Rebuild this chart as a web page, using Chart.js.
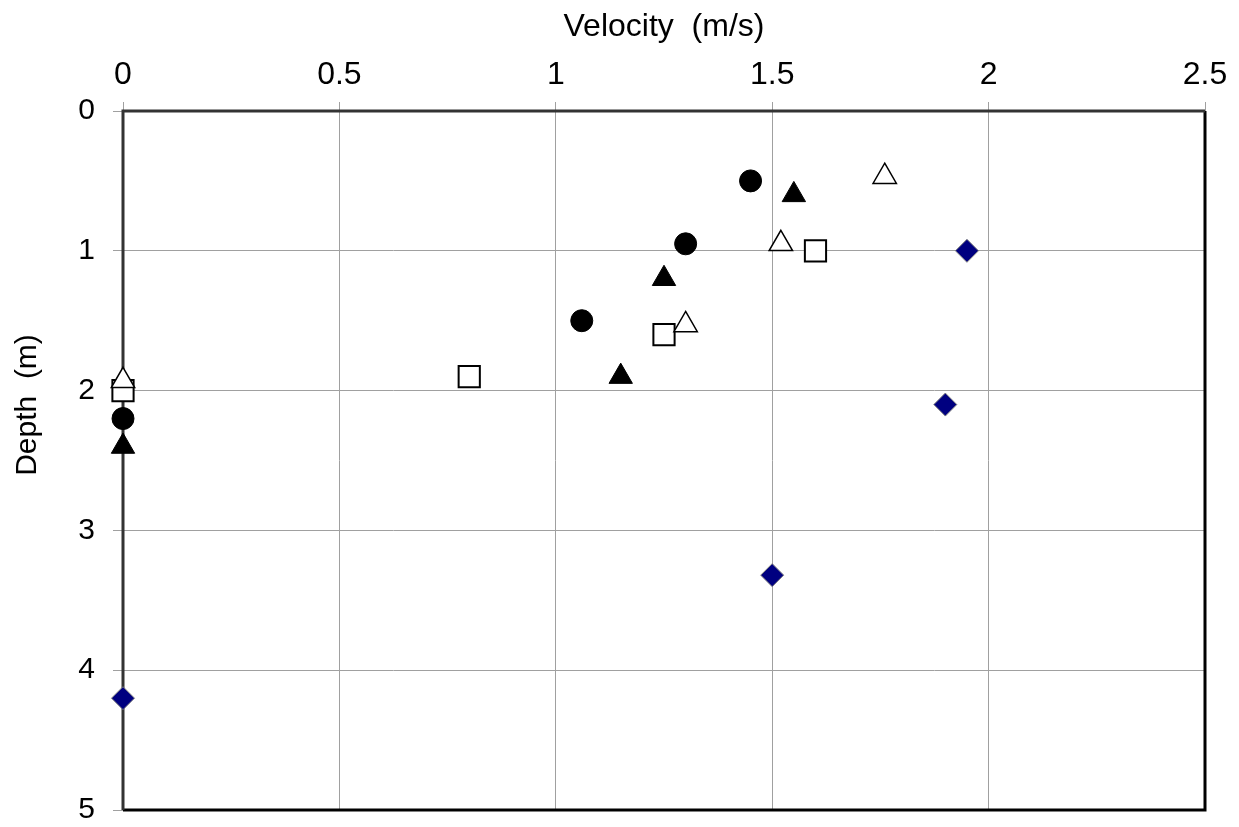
<!DOCTYPE html>
<html>
<head>
<meta charset="utf-8">
<script src="https://cdn.jsdelivr.net/npm/chart.js@4.4.1/dist/chart.umd.min.js"></script>
<style>
  html, body { margin: 0; padding: 0; background: #fff; }
  #wrap { width: 1239px; height: 827px; }
</style>
</head>
<body>
<div id="wrap"><canvas id="chart" width="1239" height="827"></canvas></div>
<script>
// velocity (m/s) vs depth (m)
const diamondVel = [1.95, 1.9, 1.5, 0];
const diamondDepth = [1.0, 2.1, 3.32, 4.2];

const circleVel = [1.45, 1.3, 1.06, 0];
const circleDepth = [0.5, 0.95, 1.5, 2.2];

const solidTriVel = [1.55, 1.25, 1.15, 0];
const solidTriDepth = [0.6, 1.2, 1.9, 2.4];

const openTriVel = [1.76, 1.52, 1.3, 0];
const openTriDepth = [0.47, 0.95, 1.53, 1.93];

const squareVel = [1.6, 1.25, 0.8, 0];
const squareDepth = [1.0, 1.6, 1.9, 2.0];

const xTitle = 'Velocity  (m/s)';
const yTitle = 'Depth  (m)';

const FONT = "'Liberation Sans', Arial, sans-serif";

function toPoints(xs, ys) {
    return xs.map((x, i) => ({ x: x, y: ys[i] }));
}

// frame round the plot area + rotated y title
const framePlugin = {
    id: 'frame',
    beforeDatasetsDraw(chart) {
        const a = chart.chartArea;
        const ctx = chart.ctx;
        ctx.save();
        ctx.lineWidth = 3;
        ctx.strokeStyle = '#000';
        ctx.beginPath();
        ctx.moveTo(a.left, a.bottom);
        ctx.lineTo(a.right, a.bottom);
        ctx.lineTo(a.right, a.top);
        ctx.stroke();
        ctx.strokeStyle = '#333';
        ctx.beginPath();
        ctx.moveTo(a.left, a.bottom);
        ctx.lineTo(a.left, a.top);
        ctx.lineTo(a.right, a.top);
        ctx.stroke();
        ctx.restore();
    },
    afterDraw(chart) {
        const ctx = chart.ctx;
        ctx.save();
        ctx.translate(28, 405);
        ctx.rotate(-Math.PI / 2);
        ctx.font = '30px ' + FONT;
        ctx.fillStyle = '#000';
        ctx.textAlign = 'center';
        ctx.textBaseline = 'middle';
        ctx.fillText(yTitle, 0, 0);
        ctx.restore();
    }
};

const ctx = document.getElementById('chart').getContext('2d');
new Chart(ctx, {
    type: 'scatter',
    data: {
        datasets: [
            {
                label: 'circle',
                data: toPoints(circleVel, circleDepth),
                pointStyle: 'circle',
                pointRadius: 11,
                backgroundColor: '#000',
                borderColor: '#000',
                borderWidth: 1
            },
            {
                label: 'solid triangle',
                data: toPoints(solidTriVel, solidTriDepth),
                pointStyle: 'triangle',
                pointRadius: 13.5,
                backgroundColor: '#000',
                borderColor: '#000',
                borderWidth: 1
            },
            {
                label: 'open triangle',
                data: toPoints(openTriVel, openTriDepth),
                pointStyle: 'triangle',
                pointRadius: 13.5,
                backgroundColor: '#fff',
                borderColor: '#000',
                borderWidth: 1.5
            },
            {
                label: 'square',
                data: toPoints(squareVel, squareDepth),
                pointStyle: 'rect',
                pointRadius: 15,
                backgroundColor: '#fff',
                borderColor: '#000',
                borderWidth: 2
            },
            {
                label: 'diamond',
                data: toPoints(diamondVel, diamondDepth),
                pointStyle: 'rectRot',
                pointRadius: 11.5,
                backgroundColor: '#000080',
                borderColor: '#808080',
                borderWidth: 1
            }
        ]
    },
    options: {
        responsive: false,
        animation: false,
        events: [],
        clip: false,
        layout: { padding: { left: 0, top: 0, right: 34, bottom: 16 } },
        plugins: {
            legend: { display: false },
            tooltip: { enabled: false }
        },
        scales: {
            x: {
                type: 'linear',
                position: 'top',
                min: 0,
                max: 2.5,
                afterFit(scale) {
                    scale.height = 111;
                    scale.paddingLeft = 0;
                    scale.paddingRight = 0;
                },
                ticks: {
                    stepSize: 0.5,
                    color: '#000',
                    font: { family: FONT, size: 32 },
                    padding: 8,
                    callback: v => String(v)
                },
                grid: {
                    color: '#a0a0a0',
                    lineWidth: 1,
                    tickLength: 9
                },
                border: { display: false },
                title: {
                    display: true,
                    text: xTitle,
                    color: '#000',
                    font: { family: FONT, size: 32 },
                    padding: { top: 8, bottom: 0 }
                }
            },
            y: {
                type: 'linear',
                reverse: true,
                min: 0,
                max: 5,
                afterFit(scale) {
                    scale.width = 123;
                    scale.paddingTop = 0;
                    scale.paddingBottom = 0;
                },
                ticks: {
                    stepSize: 1,
                    color: '#000',
                    font: { family: FONT, size: 30 },
                    padding: 18,
                    callback: v => String(v)
                },
                grid: {
                    color: '#a0a0a0',
                    lineWidth: 1,
                    tickLength: 10
                },
                border: { display: false }
            }
        }
    },
    plugins: [framePlugin]
});
</script>
</body>
</html>
